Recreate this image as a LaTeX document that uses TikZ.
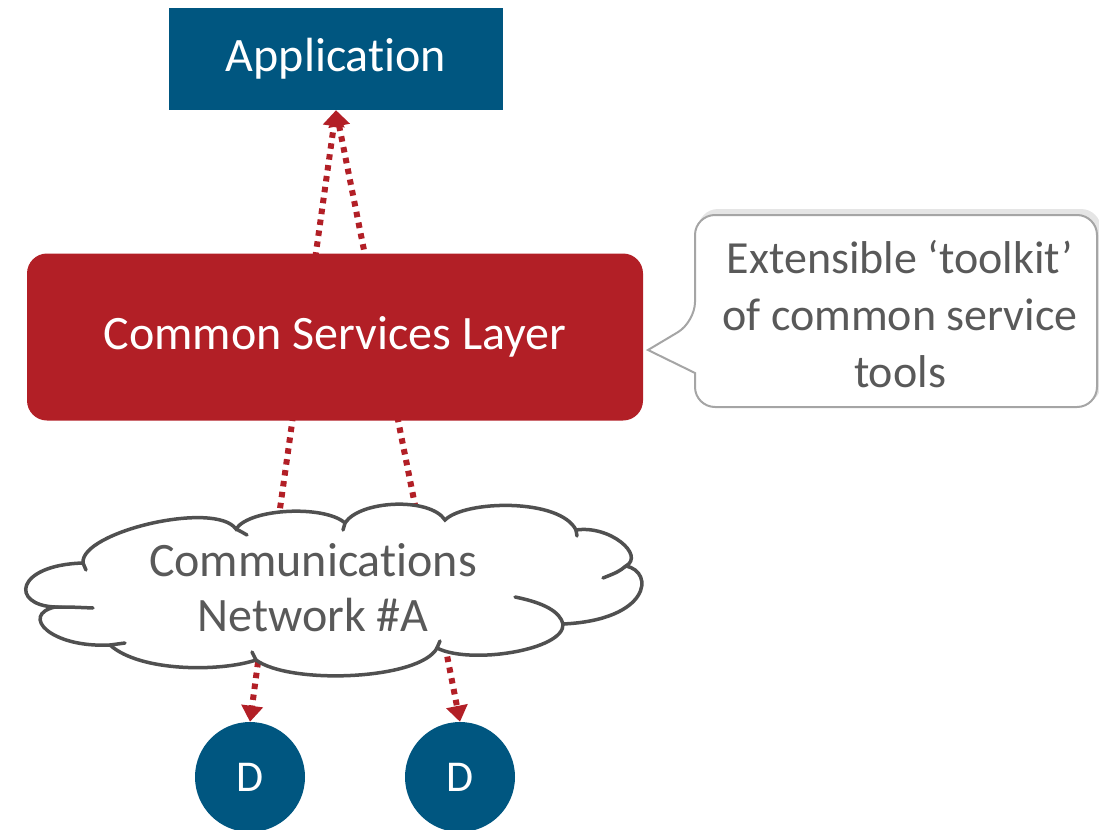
\documentclass[tikz,border=0pt]{standalone}
\usepackage{fontspec}
\setmainfont{Carlito}[Ligatures=NoCommon]
\usetikzlibrary{arrows.meta}
\pgfdeclarelayer{bg}
\pgfsetlayers{bg,main}
\definecolor{appblue}{RGB}{0,86,128}
\definecolor{cslred}{RGB}{178,31,38}
\definecolor{txtgray}{RGB}{89,89,89}
\definecolor{cloudgray}{RGB}{80,80,80}
\definecolor{callgray}{RGB}{165,165,165}
\tikzset{
  bigfont/.style={font=\fontsize{48}{57}\selectfont},
  bluebox/.style={fill=appblue,text=white,bigfont,inner sep=0pt},
  redbox/.style={fill=cslred,text=white,rounded corners=20pt,bigfont,inner sep=0pt},
  devnode/.style={circle,fill=appblue,text=white,minimum size=110pt,inner sep=0pt,font=\fontsize{44}{50}\selectfont},
  cloudline/.style={draw=cloudgray,line width=3.5pt,line cap=round},
  cloudtext/.style={text=txtgray,align=center,inner sep=0pt,font=\fontsize{48}{55}\selectfont},
  dotarrow/.style={draw=cslred,line width=6pt,dash pattern=on 5.5pt off 5.5pt,-{Triangle[width=21pt,length=16pt]}},
  calloutline/.style={draw=callgray,line width=2pt,fill=white},
  notetext/.style={text=txtgray,align=center,inner sep=0pt,font=\fontsize{46}{57}\selectfont},
}
\begin{document}
\begin{tikzpicture}[x=1pt,y=-1pt]
\useasboundingbox (0,0) rectangle (1099,829);
\node[bluebox,minimum width=334pt,minimum height=102pt] (app) at (336,59) {Application};
\node[redbox,minimum width=616pt,minimum height=167pt] (csl) at (335,337) {Common Services Layer};
\node[devnode] (d1) at (250,777) {D};
\node[devnode] (d2) at (460,777) {D};
\coordinate (s1) at (277,530);
\coordinate (s2) at (420,530);
\coordinate (s3) at (261,640);
\coordinate (s4) at (443,635);
\begin{pgfonlayer}{bg}
\draw[dotarrow] (s1) -- (app.south);
\draw[dotarrow] (s2) -- (app.south);
\draw[dotarrow] (s3) -- (d1.north);
\draw[dotarrow] (s4) -- (d2.north);
\end{pgfonlayer}
% cloud outline
\filldraw[cloudline,fill=white]
  (83,563) .. controls (80,532) and (215,500) .. (236,529)
  .. controls (250,508) and (325,505) .. (345,523)
  .. controls (360,500) and (430,497) .. (445,520)
  .. controls (465,500) and (560,498) .. (576,530)
  .. controls (610,525) and (645,555) .. (626,566)
  .. controls (655,572) and (650,620) .. (563,624)
  .. controls (565,650) and (470,665) .. (437,648)
  .. controls (420,680) and (290,685) .. (256,660)
  .. controls (220,672) and (140,672) .. (110,645)
  .. controls (50,648) and (20,615) .. (55,607)
  .. controls (10,605) and (15,565) .. cycle;
% inner strokes of the cloud
\draw[cloudline] (236,529) .. controls (240,531) .. (247,535);
\draw[cloudline] (55,607) .. controls (70,607) .. (93,608);
\draw[cloudline] (110,645) -- (125,643);
\draw[cloudline] (256,660) .. controls (254,656) .. (252,652);
\draw[cloudline] (437,648) -- (440,641);
\draw[cloudline] (626,566) .. controls (618,572) .. (603,578);
\draw[cloudline] (515,597) .. controls (545,603) and (560,612) .. (563,624);
\draw[cloudline] (83,563) -- (86,570);
\draw[cloudline] (345,523) -- (343,530);
\draw[cloudline] (576,530) -- (577,536);
\node[cloudtext] (net) at (313,588) {Communications\\Network \#A};
% callout
\coordinate (tip) at (648,350);
\fill[black,opacity=0.10] (698,209) [rounded corners=20pt] -- (698,404) -- (1101,404) -- (1101,209) -- cycle;
\draw[calloutline] (900,215) [rounded corners=20pt] -- (695,215) -- (695,322) [sharp corners] -- (tip) -- (695,373) [rounded corners=20pt] -- (695,407) -- (1097,407) -- (1097,215) -- cycle;
\node[notetext] (note) at (900,314) {Extensible ‘toolkit’\\of common service\\tools};
\end{tikzpicture}
\end{document}
